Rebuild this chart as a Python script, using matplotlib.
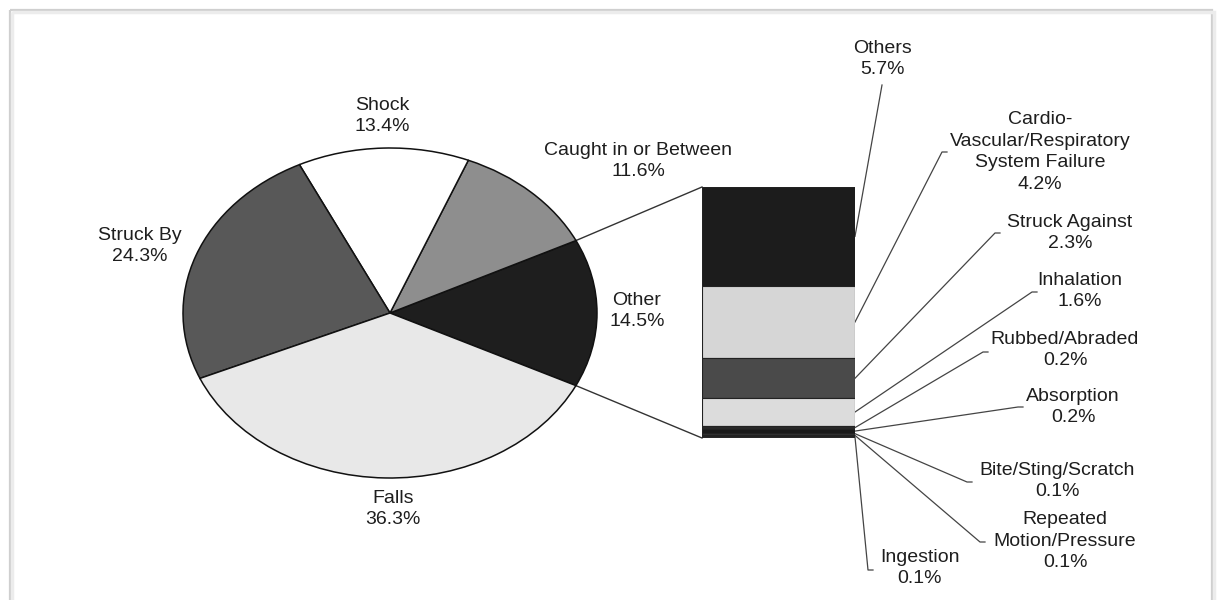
import matplotlib
matplotlib.use("Agg")
import matplotlib.pyplot as plt
import numpy as np
from matplotlib.patches import Rectangle

plt.rcParams['font.family'] = ['Liberation Sans', 'DejaVu Sans']

# ---- data ----
main_labels = ['Other', 'Caught in or Between', 'Shock', 'Struck By', 'Falls']
main_values = [14.5, 11.6, 13.4, 24.3, 36.3]
main_colors = ['#1e1e1e', '#8e8e8e', '#ffffff', '#585858', '#e8e8e8']

sub_labels = ['Others', 'Cardio-\nVascular/Respiratory\nSystem Failure', 'Struck Against',
              'Inhalation', 'Rubbed/Abraded', 'Absorption', 'Bite/Sting/Scratch',
              'Repeated\nMotion/Pressure', 'Ingestion']
sub_values = [5.7, 4.2, 2.3, 1.6, 0.2, 0.2, 0.1, 0.1, 0.1]
sub_colors = ['#1c1c1c', '#d6d6d6', '#4a4a4a', '#dcdcdc', '#2a2a2a', '#1a1a1a',
              '#333333', '#1a1a1a', '#2a2a2a']

W, H = 1221, 600
fig = plt.figure(figsize=(W / 100, H / 100), dpi=100)
fig.patch.set_facecolor('white')

def fbox(left, top, right, bottom):
    return [left / W, 1 - bottom / H, (right - left) / W, (bottom - top) / H]

# overlay axes in pixel coordinates
ov = fig.add_axes([0, 0, 1, 1])
ov.set_xlim(0, W)
ov.set_ylim(H, 0)
ov.axis('off')
ov.add_patch(Rectangle((10, 10), 1202, 600, fill=False, edgecolor='#cfcfcf', lw=1.6, zorder=0))
ov.add_patch(Rectangle((12, 12), 1202, 600, fill=False, edgecolor='#ececec', lw=2.5, zorder=0))

# pie (elliptical)
pax = fig.add_axes(fbox(183, 148, 597, 478))
startangle = -main_values[0] * 3.6 / 2
wedges, _ = pax.pie(main_values, colors=main_colors, startangle=startangle,
                    counterclock=True,
                    wedgeprops=dict(edgecolor='#111111', linewidth=1.1))
pax.set_aspect('auto')
pax.set_xlim(-1.0, 1.0)
pax.set_ylim(-1.0, 1.0)
pax.axis('off')

# stacked bar
bax = fig.add_axes(fbox(702, 187, 855, 438))
cum = np.concatenate([[0], np.cumsum(sub_values)])
bax.bar([0] * len(sub_values), sub_values, bottom=cum[:-1], width=1.0,
        color=sub_colors, edgecolor='#222222', linewidth=0.8)
bax.set_xlim(-0.5, 0.5)
bax.set_ylim(cum[-1], 0)
bax.axis('off')

def to_ov(ax, x, y):
    p = ax.transData.transform((x, y))
    return ov.transData.inverted().transform(p)

# connector lines from pie "Other" wedge to the bar
w = wedges[0]
for ang, by in [(w.theta2, 0), (w.theta1, cum[-1])]:
    p1 = to_ov(pax, np.cos(np.radians(ang)), np.sin(np.radians(ang)))
    p2 = to_ov(bax, -0.5, by)
    ov.plot([p1[0], p2[0]], [p1[1], p2[1]], color='#333333', lw=1.0)

txt = dict(ha='center', va='center', fontsize=14, color='#1e1e1e', linespacing=1.36)

# pie labels
main_pos = [(637, 311), (638, 161), (382, 116), (140, 246), (393, 509)]
for lab, v, (x, y) in zip(main_labels, main_values, main_pos):
    ov.text(x, y, f"{lab}\n{v}%", **txt)

# bar labels and leader lines
sub_text_pos = [(882, 59), (1040, 152), (1070, 233), (1080, 291), (1065, 350),
                (1073, 407), (1057, 481), (1065, 541), (920, 568)]
leader_end = [(882, 85), (942, 152), (995, 233), (1032, 292), (983, 352),
              (1018, 407), (967, 482), (980, 542), (868, 570)]
for i, (lab, v) in enumerate(zip(sub_labels, sub_values)):
    mid = (cum[i] + cum[i + 1]) / 2
    p = to_ov(bax, 0.5, mid)
    ex, ey = leader_end[i]
    xs = [p[0], ex]
    ys = [p[1], ey]
    if i > 0:
        xs.append(ex + 5)
        ys.append(ey)
    ov.plot(xs, ys, color='#444444', lw=0.9)
    tx, ty = sub_text_pos[i]
    ov.text(tx, ty, f"{lab}\n{v}%", **txt)

fig.savefig('out.png', dpi=100)
